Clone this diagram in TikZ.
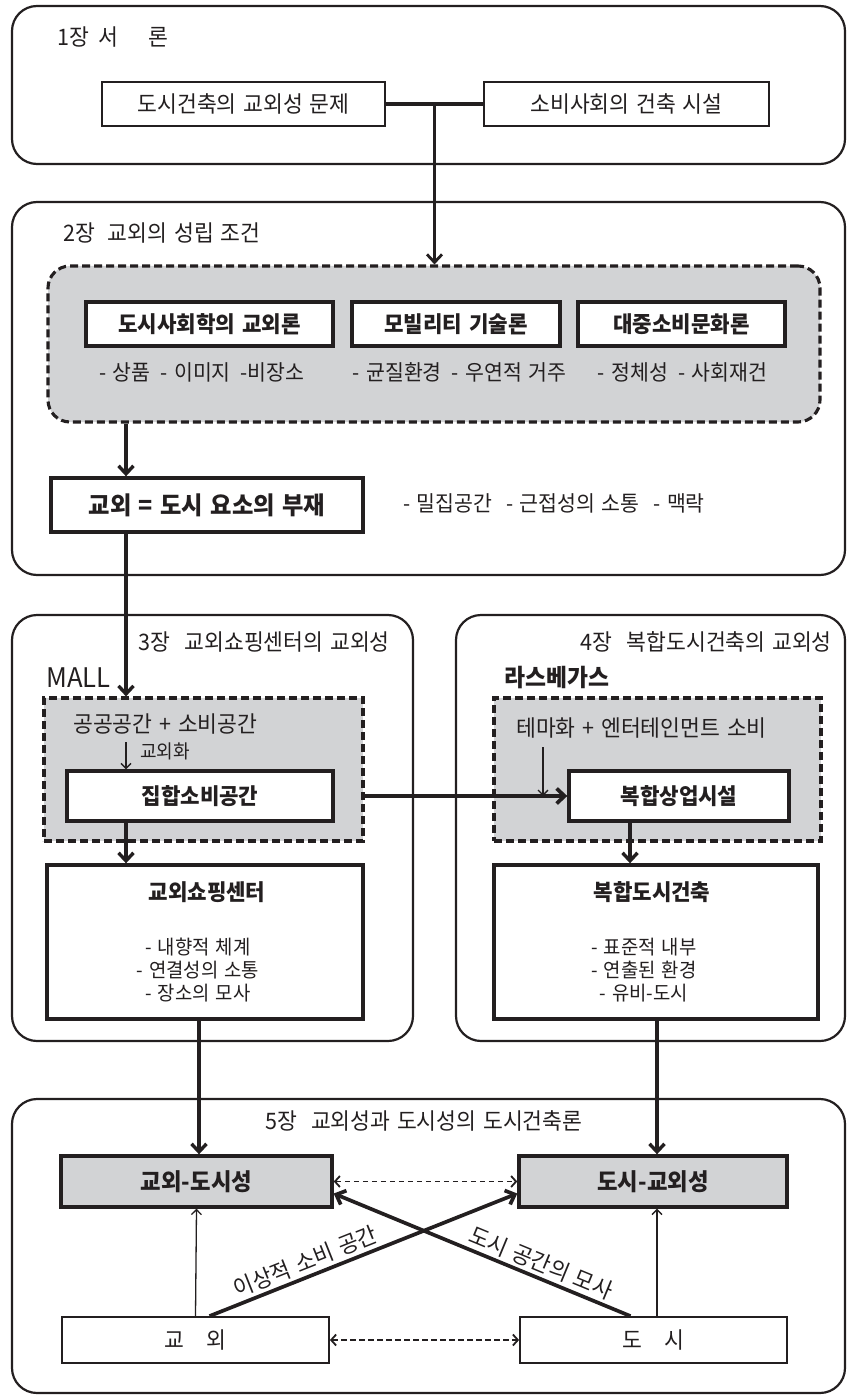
\documentclass[tikz,border=0pt]{standalone}
\usepackage{fontspec}
\setmainfont[WordSpace=1.4, FakeStretch=0.95]{Noto Sans CJK KR}
\usetikzlibrary{arrows.meta,calc}
\definecolor{ln}{RGB}{35,31,32}
\definecolor{fg}{RGB}{210,211,213}
\begin{document}
\begin{tikzpicture}[x=1pt,y=-1pt,
  every node/.style={inner sep=0pt, text=ln},
  chap/.style={draw=ln, line width=2.2pt, rounded corners=25pt},
  tbox/.style={draw=ln, line width=1.8pt, fill=white},
  bbox/.style={draw=ln, line width=3.4pt, fill=white},
  gbox/.style={draw=ln, line width=3.4pt, fill=fg},
  dboxr/.style={draw=ln, line width=3.1pt, dash pattern=on 8pt off 4pt, fill=fg, rounded corners=22pt},
  dboxs/.style={draw=ln, line width=3.2pt, dash pattern=on 8pt off 4pt, fill=fg},
  fr/.style={font=\fontsize{22.7}{27}\selectfont},
  fsub/.style={font=\fontsize{21.6}{26}\selectfont},
  flist/.style={font=\fontsize{19.8}{23}\selectfont},
  fb/.style={font=\fontsize{22.3}{26}\selectfont\bfseries},
  conn/.style={draw=ln, line width=3.4pt, -{Straight Barb[length=8pt,width=15pt]}},
  rconn/.style={draw=ln, line width=3.7pt, {Straight Barb[length=8pt,width=15pt]}-},
  tarr/.style={draw=ln, line width=1.3pt, -{Straight Barb[length=5pt,width=10pt]}},
  darr/.style={draw=ln, line width=1.8pt, dash pattern=on 5.5pt off 3.5pt,
    {Straight Barb[length=5pt,width=11pt]}-{Straight Barb[length=5pt,width=11pt]}}
]
\useasboundingbox (0,0) rectangle (847,1396);

% ---------- chapter 1 ----------
\node[chap, minimum width=833pt, minimum height=158pt] (C1) at (428.5,85) {};
\node[fr, anchor=west] (t1) at (57,37) {1장\hspace{10pt}서\hspace{30pt}론};
\node[tbox, fr, minimum width=283pt, minimum height=44pt] (A) at (243.5,104) {도시건축의 교외성 문제};
\node[tbox, fr, minimum width=285pt, minimum height=44pt] (B) at (626.5,104) {소비사회의 건축 시설};

% ---------- chapter 2 ----------
\node[chap, minimum width=833pt, minimum height=373pt] (C2) at (428.5,388.5) {};
\node[fr, anchor=west] (t2) at (63,233) {2장\hspace{13pt}교외의 성립 조건};
\node[dboxr, minimum width=772pt, minimum height=156pt] (D2) at (434,344) {};
\node[bbox, fb, minimum width=247pt, minimum height=44pt] (T1) at (209.5,324) {도시사회학의 교외론};
\node[bbox, fb, minimum width=208pt, minimum height=44pt] (T2) at (456,324) {모빌리티 기술론};
\node[bbox, fb, minimum width=207pt, minimum height=44pt] (T3) at (681.5,324) {대중소비문화론};
\node[fsub] (S1) at (202,372) {- 상품\hspace{10pt}- 이미지\hspace{10pt}-비장소};
\node[fsub] (S2) at (459.5,372) {- 균질환경\hspace{10pt}- 우연적 거주};
\node[fsub] (S3) at (682.5,372) {- 정체성\hspace{10pt}- 사회재건};
\node[bbox, font=\fontsize{24.5}{28}\selectfont\bfseries, minimum width=312pt, minimum height=54pt] (K) at (207,505) {교외 = 도시 요소의 부재};
\node[fsub, anchor=west] (S4) at (403,503) {- 밀집공간\hspace{14pt}- 근접성의 소통\hspace{14pt}- 맥락};

% ---------- chapters 3 and 4 ----------
\node[chap, minimum width=401pt, minimum height=426pt] (C3) at (212.5,828) {};
\node[chap, minimum width=389pt, minimum height=426pt] (C4) at (650.5,828) {};
\node[fr, anchor=east] (t3) at (390,642) {3장\hspace{14pt}교외쇼핑센터의 교외성};
\node[fr, anchor=east] (t4) at (832,642) {4장\hspace{14pt}복합도시건축의 교외성};
\node[font=\fontsize{27}{30}\selectfont, anchor=west] (mall) at (46,678) {MALL};
\node[font=\fontsize{24}{28}\selectfont\bfseries, anchor=west] (lv) at (504,678) {라스베가스};
\node[dboxs, minimum width=319pt, minimum height=143pt] (M) at (203.5,769.5) {};
\node[dboxs, minimum width=327pt, minimum height=143pt] (L) at (657.5,769.5) {};
\node[fr, anchor=west] (p1) at (73,724) {공공공간 + 소비공간};
\node[fr, anchor=west] (p2) at (516,728) {테마화 + 엔터테인먼트 소비};
\node[font=\fontsize{19}{23}\selectfont, anchor=west] (p3) at (140,751) {교외화};
\node[bbox, fb, minimum width=266pt, minimum height=50pt] (J1) at (200,796) {집합소비공간};
\node[bbox, fb, minimum width=220pt, minimum height=50pt] (J2) at (679,796) {복합상업시설};
\node[bbox, minimum width=316pt, minimum height=154pt] (G1) at (205,942) {};
\node[fb] (g1t) at (207,892) {교외쇼핑센터};
\node[flist, align=center] (g1l) at (198,970) {- 내향적 체계\\- 연결성의 소통\\- 장소의 모사};
\node[bbox, minimum width=324pt, minimum height=154pt] (G2) at (656,942) {};
\node[fb] (g2t) at (652,892) {복합도시건축};
\node[flist, align=center] (g2l) at (644,970) {- 표준적 내부\\- 연출된 환경\\- 유비-도시};

% ---------- chapter 5 ----------
\node[chap, minimum width=833pt, minimum height=294pt] (C5) at (428.5,1246) {};
\node[fr, anchor=west] (t5) at (265,1121) {5장\hspace{14pt}교외성과 도시성의 도시건축론};
\node[gbox, font=\fontsize{23.5}{27}\selectfont\bfseries, minimum width=271pt, minimum height=51pt] (GD) at (196.5,1181.5) {교외-도시성};
\node[gbox, font=\fontsize{23.5}{27}\selectfont\bfseries, minimum width=268pt, minimum height=51pt] (DG) at (653,1181.5) {도시-교외성};
\node[tbox, fr, minimum width=267pt, minimum height=46pt] (GY) at (195.5,1340) {교\hspace{22pt}외};
\node[tbox, fr, minimum width=267pt, minimum height=46pt] (DS) at (653.5,1340) {도\hspace{22pt}시};

% ---------- connectors ----------
\draw[ln, line width=3.6pt] (A.east) -- (B.west);
\coordinate (J) at ($(A.east)!0.5!(B.west)$);
\draw[conn, line width=2.8pt] (J) -- (J |- D2.north);
\coordinate (xL) at (126,0);
\draw[conn] (D2.south -| xL) -- (K.north -| xL);
\draw[conn] (K.south -| xL) -- (M.north -| xL);
\coordinate (k1) at (126,742);
\draw[tarr] (k1) -- (J1.north -| xL);
\draw[conn, line width=3.7pt] (M.east |- J1.east) -- (J2.west);
\coordinate (k2) at (543,747);
\draw[tarr] (k2) -- (k2 |- J2.west);
\draw[conn] (J1.south -| xL) -- (G1.north -| xL);
\coordinate (xR) at (630,0);
\draw[conn] (J2.south -| xR) -- (G2.north -| xR);
\coordinate (xA) at (199,0);
\coordinate (xB) at (657,0);
\draw[conn] (G1.south -| xA) -- (GD.north -| xA);
\draw[conn] (G2.south -| xB) -- (DG.north -| xB);
\draw[darr] (GD.east) -- (DG.west);
\draw[darr] (GY.east) -- (DS.west);
\draw[tarr] (GY.north) -- (GD.south);
\draw[tarr] (DS.north -| xB) -- (DG.south -| xB);
\draw[conn, line width=3.7pt] ([xshift=14pt]GY.north) -- ([yshift=-12pt]DG.west)
  node[pos=0.33, sloped, above=3pt, fr] {이상적 소비 공간};
\draw[rconn] ([yshift=-12pt]GD.east) -- ([xshift=-23pt]DS.north)
  node[pos=0.68, sloped, above=3pt, fr] {도시 공간의 모사};
\end{tikzpicture}
\end{document}
